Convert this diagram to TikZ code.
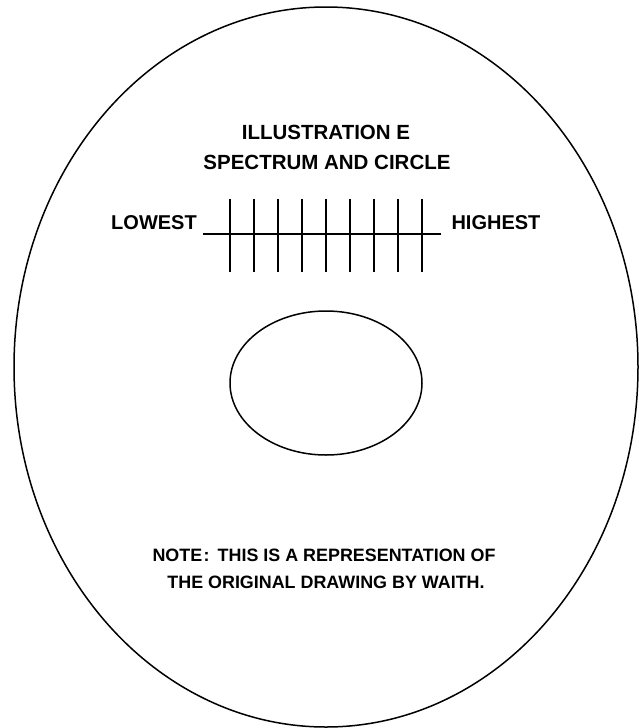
\documentclass[tikz,border=0pt]{standalone}
\usepackage{fontspec}
\setmainfont{Liberation Sans}
\usepackage{tikz}
\usetikzlibrary{shapes.geometric, positioning}

\begin{document}
\begin{tikzpicture}[
    x=1pt, y=-1pt,
    outline/.style={draw=black, line width=1.5pt},
    titletext/.style={inner sep=0pt, font=\fontsize{20.5}{24}\selectfont\bfseries},
    endtext/.style={inner sep=0pt, font=\fontsize{20}{24}\selectfont\bfseries},
    notetext/.style={inner sep=0pt, font=\fontsize{17.9}{22}\selectfont\bfseries},
    tick/.style={draw=black, line width=2pt}
]
\useasboundingbox (0,0) rectangle (639,728);

% Outer and inner ellipses
\node[outline, ellipse, minimum width=624pt, minimum height=720pt, inner sep=0pt] (outer) at (326, 367) {};
\node[outline, ellipse, minimum width=192pt, minimum height=144pt, inner sep=0pt] (inner) at (326, 383) {};

% Title
\node[titletext] (title1) at (326, 132.5) {ILLUSTRATION E};
\node[titletext] (title2) at (327, 162.5) {SPECTRUM AND CIRCLE};

% Spectrum with end labels
\node[endtext] (lowest) at (154, 223) {LOWEST};
\node[endtext] (highest) at (496, 223) {HIGHEST};
\coordinate (specW) at (203, 234);
\coordinate (specE) at (441, 234);
\draw[tick] (specW) -- (specE);
\foreach \i in {0,...,8}
    \draw[tick] (230+24*\i, 199) -- (230+24*\i, 272);

% Note at the bottom
\node[notetext] (note1) at (324, 555) {NOTE\hspace{1.5pt}:\hspace{8pt}THIS IS A REPRESENTATION OF};
\node[notetext] (note2) at (326, 582) {THE ORIGINAL DRAWING BY WAITH.};

\end{tikzpicture}
\end{document}
